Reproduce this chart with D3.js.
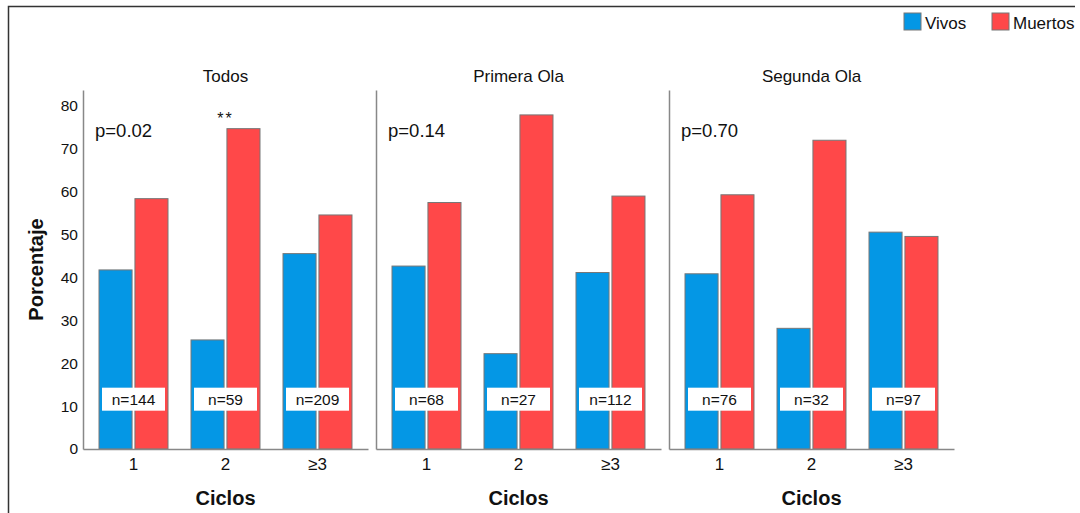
<!DOCTYPE html>
<html>
<head>
<meta charset="utf-8">
<script src="https://cdn.jsdelivr.net/npm/d3@7"></script>
<style>
  body { margin: 0; background: #fff; }
  svg { display: block; font-family: "Liberation Sans", Arial, sans-serif; }
</style>
</head>
<body>
<svg id="chart" width="1080" height="513"></svg>
<script>
// chart data
const panels = ["Todos", "Primera Ola", "Segunda Ola"];
const ciclos = ["1", "2", "≥3"];
const series = ["Vivos", "Muertos"];
const vivos = [[41.7, 25.4, 45.5], [42.6, 22.2, 41.1], [40.8, 28.1, 50.5]];
const muertos = [[58.3, 74.6, 54.5], [57.4, 77.8, 58.9], [59.2, 71.9, 49.5]];
const nLabels = [["n=144", "n=59", "n=209"], ["n=68", "n=27", "n=112"], ["n=76", "n=32", "n=97"]];
const pValues = ["p=0.02", "p=0.14", "p=0.70"];
const yTicks = [0, 10, 20, 30, 40, 50, 60, 70, 80];

const colors = {Vivos: "#0497e5", Muertos: "#ff4849"};

let svg = d3.select("#chart");

// frame (top and left edges only)
svg.append("path")
    .attr("d", "M8.5,513 V6.5 H1075")
    .attr("fill", "none")
    .attr("stroke", "#333")
    .attr("stroke-width", 1.5);

let panelX = d3.scaleBand().domain(panels).range([83, 954]).paddingInner(8 / 293);
let y = d3.scaleLinear().domain([0, 83.6]).range([449, 90]);

panels.forEach(function(p, i) {
    let x0 = panelX(p);
    let w = panelX.bandwidth();
    let xc = d3.scaleBand().domain(ciclos).range([x0, x0 + w]).paddingInner(0.25).paddingOuter(0.174);
    let xs = d3.scaleBand().domain(series).range([0, xc.bandwidth()]).paddingInner(0.08);

    let g = svg.append("g");

    // y axis (labels only on first panel)
    let yAxis = d3.axisLeft(y).tickSize(0).tickSizeOuter(0).tickPadding(5);
    if (i == 0) yAxis.tickValues(yTicks);
    else yAxis.tickValues([]);
    let ya = g.append("g").attr("transform", "translate(" + x0 + ",0)").call(yAxis);
    ya.select(".domain").attr("stroke", "#888").attr("stroke-width", 1.5);
    ya.selectAll("text").attr("font-size", 15.5).attr("fill", "#111").style("font-family", "inherit");

    // bars
    let groups = g.selectAll(".grp")
        .data(ciclos)
        .enter().append("g")
        .attr("transform", function(c) { return "translate(" + xc(c) + ",0)"; });

    groups.selectAll("rect")
        .data(function(c, j) { return [{s: "Vivos", v: vivos[i][j]}, {s: "Muertos", v: muertos[i][j]}]; })
        .enter().append("rect")
        .attr("x", function(d) { return xs(d.s); })
        .attr("y", function(d) { return y(d.v); })
        .attr("width", xs.bandwidth())
        .attr("height", function(d) { return y(0) - y(d.v); })
        .attr("fill", function(d) { return colors[d.s]; })
        .attr("stroke", "#777")
        .attr("stroke-width", 1);

    // n= boxes
    let labelAt = 11.6;
    groups.append("rect")
        .attr("x", xc.bandwidth() / 2 - 31.5)
        .attr("y", y(labelAt) - 11.5)
        .attr("width", 63)
        .attr("height", 23)
        .attr("fill", "#fff");
    groups.append("text")
        .attr("x", xc.bandwidth() / 2)
        .attr("y", y(labelAt))
        .attr("dy", "0.35em")
        .attr("text-anchor", "middle")
        .attr("font-size", 15.5)
        .attr("fill", "#111")
        .text(function(c, j) { return nLabels[i][j]; });

    // x axis
    let xa = g.append("g").attr("transform", "translate(0," + y(0) + ")")
        .call(d3.axisBottom(xc).tickSize(0).tickSizeOuter(0).tickPadding(9));
    xa.select(".domain").attr("stroke", "#888").attr("stroke-width", 1.5);
    xa.selectAll("text").attr("font-size", 17).attr("fill", "#111").style("font-family", "inherit");

    // panel title
    g.append("text")
        .attr("x", x0 + w / 2)
        .attr("y", 82)
        .attr("text-anchor", "middle")
        .attr("font-size", 17)
        .attr("fill", "#111")
        .text(p);

    // p value
    g.append("text")
        .attr("x", x0 + 12)
        .attr("y", 137)
        .attr("font-size", 18.5)
        .attr("fill", "#111")
        .text(pValues[i]);

    // x title
    g.append("text")
        .attr("x", x0 + w / 2)
        .attr("y", 505)
        .attr("text-anchor", "middle")
        .attr("font-size", 20)
        .attr("font-weight", "bold")
        .attr("fill", "#111")
        .text("Ciclos");

    // significance mark on first panel, cycle 2
    if (i == 0) {
        g.append("text")
            .attr("x", xc("2") + xc.bandwidth() / 2)
            .attr("y", 124)
            .attr("text-anchor", "middle")
            .attr("font-size", 16)
            .attr("letter-spacing", 2)
            .attr("fill", "#111")
            .text("**");
    }
});

// y title
svg.append("text")
    .attr("transform", "translate(43," + ((y(0) + y.range()[1]) / 2) + ") rotate(-90)")
    .attr("text-anchor", "middle")
    .attr("font-size", 20)
    .attr("font-weight", "bold")
    .attr("fill", "#111")
    .text("Porcentaje");

// legend
let legend = svg.append("g");
let legX = [904, 992];
series.forEach(function(s, k) {
    legend.append("rect")
        .attr("x", legX[k])
        .attr("y", 13)
        .attr("width", 17)
        .attr("height", 17)
        .attr("fill", colors[s])
        .attr("stroke", "#777")
        .attr("stroke-width", 1);
    legend.append("text")
        .attr("x", legX[k] + 21)
        .attr("y", 29)
        .attr("font-size", 17)
        .attr("fill", "#111")
        .text(s);
});
</script>
</body>
</html>
